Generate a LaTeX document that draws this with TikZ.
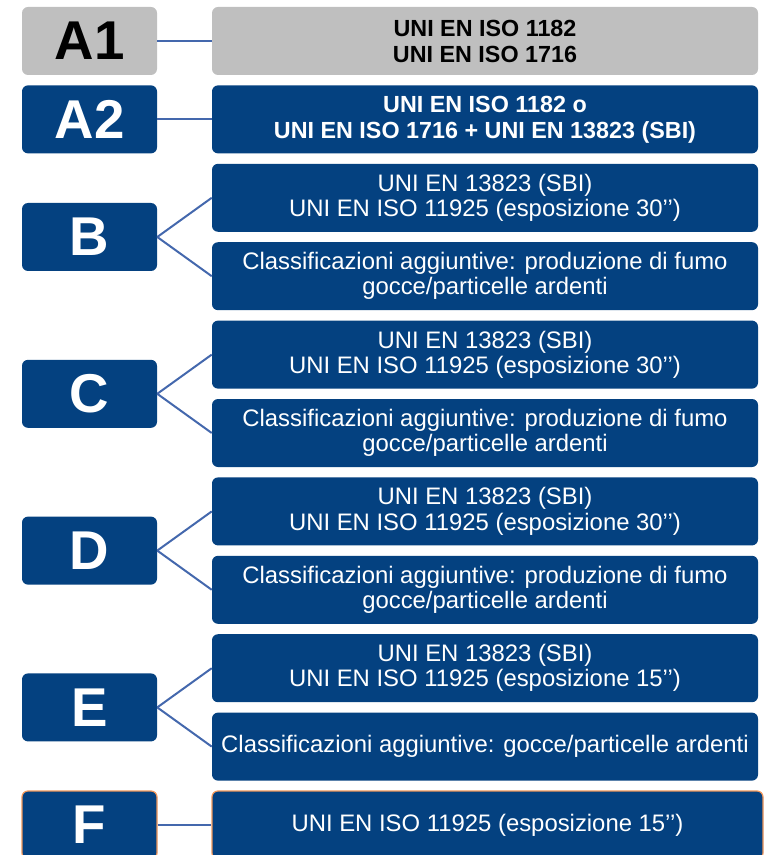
\documentclass[tikz,border=0pt]{standalone}
\usepackage{fontspec}
\setmainfont{Liberation Sans}
\usepackage{xcolor}
\usepackage{tikz}

\definecolor{navy}{RGB}{4,65,128}
\definecolor{lgray}{RGB}{191,191,191}
\definecolor{link}{RGB}{68,104,173}
\definecolor{orng}{RGB}{240,150,90}

\begin{document}
\begin{tikzpicture}[x=0.75pt,y=-0.75pt,
    cls/.style={fill=navy,text=white,rounded corners=4.5pt,inner sep=0pt,
        minimum width=101.25pt,minimum height=51pt,
        font=\fontsize{41}{44}\selectfont\bfseries},
    norm/.style={fill=navy,text=white,rounded corners=4.5pt,inner sep=0pt,
        minimum width=409.5pt,minimum height=51pt,align=center,
        font=\fontsize{17.9}{18.9}\selectfont},
    boldnorm/.style={norm,font=\fontsize{17.5}{19.5}\selectfont\bfseries},
    grey/.style={fill=lgray,text=black},
    fbox/.style={draw=orng,line width=0.9pt},
    conn/.style={draw=link,line width=1.5pt}]
    \useasboundingbox (0,0) rectangle (769,855);
    % classes
    \node[cls,grey] (A1) at (89.5,41) {A1};
    \node[cls] (A2) at (89.5,119.4) {A2};
    \node[cls] (B) at (89.5,237) {B};
    \node[cls] (C) at (89.5,393.8) {C};
    \node[cls] (D) at (89.5,550.6) {D};
    \node[cls] (E) at (89.5,707.4) {E};
    \node[cls,fbox] (F) at (89.5,825) {F};
    % tests
    \node[boldnorm,grey] (A1r) at (485,41) {UNI EN ISO 1182\\UNI EN ISO 1716};
    \node[boldnorm] (A2r) at (485,119.4) {UNI EN ISO 1182 o\\UNI EN ISO 1716 + UNI EN 13823 (SBI)};
    \node[norm] (B1) at (485,197.8) {UNI EN 13823 (SBI)\\UNI EN ISO 11925 (esposizione 30’’)};
    \node[norm] (B2) at (485,276.2) {Classificazioni aggiuntive: produzione di fumo\\gocce/particelle ardenti};
    \node[norm] (C1) at (485,354.6) {UNI EN 13823 (SBI)\\UNI EN ISO 11925 (esposizione 30’’)};
    \node[norm] (C2) at (485,433) {Classificazioni aggiuntive: produzione di fumo\\gocce/particelle ardenti};
    \node[norm] (D1) at (485,511.4) {UNI EN 13823 (SBI)\\UNI EN ISO 11925 (esposizione 30’’)};
    \node[norm] (D2) at (485,589.8) {Classificazioni aggiuntive: produzione di fumo\\gocce/particelle ardenti};
    \node[norm] (E1) at (485,668.2) {UNI EN 13823 (SBI)\\UNI EN ISO 11925 (esposizione 15’’)};
    \node[norm] (E2) at (485,746.6) {Classificazioni aggiuntive: gocce/particelle ardenti};
    \node[norm,fbox,minimum width=413.25pt] (Fr) at (487.5,825) {UNI EN ISO 11925 (esposizione 15’’)};
    % links
    \draw[conn] (A1) to (A1r);
    \draw[conn] (A2) to (A2r);
    \draw[conn] (B.east) to (B1.west);
    \draw[conn] (B.east) to (B2.west);
    \draw[conn] (C.east) to (C1.west);
    \draw[conn] (C.east) to (C2.west);
    \draw[conn] (D.east) to (D1.west);
    \draw[conn] (D.east) to (D2.west);
    \draw[conn] (E.east) to (E1.west);
    \draw[conn] (E.east) to (E2.west);
    \draw[conn] (F) to (Fr);
\end{tikzpicture}
\end{document}
